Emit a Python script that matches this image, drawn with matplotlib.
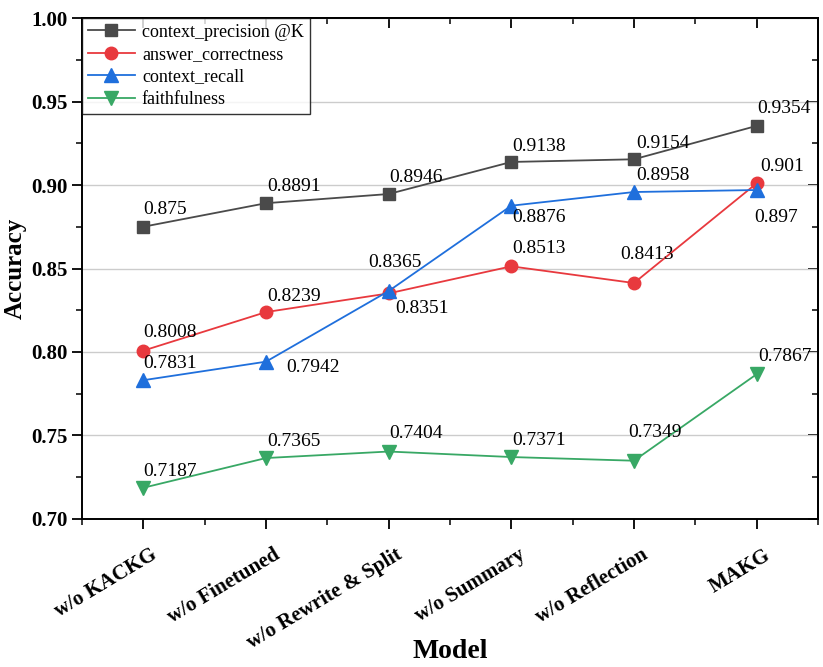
import matplotlib
matplotlib.use("Agg")
import matplotlib.pyplot as plt
from matplotlib.ticker import MultipleLocator, FormatStrFormatter
from matplotlib.transforms import ScaledTranslation

plt.rcParams['font.family'] = ['Liberation Serif', 'DejaVu Serif']

models = ["w/o KACKG", "w/o Finetuned", "w/o Rewrite & Split", "w/o Summary", "w/o Reflection", "MAKG"]
context_precision = [0.875, 0.8891, 0.8946, 0.9138, 0.9154, 0.9354]
answer_correctness = [0.8008, 0.8239, 0.8351, 0.8513, 0.8413, 0.901]
context_recall = [0.7831, 0.7942, 0.8365, 0.8876, 0.8958, 0.897]
faithfulness = [0.7187, 0.7365, 0.7404, 0.7371, 0.7349, 0.7867]

# label offsets in pixels (dx, dy screen-down)
off_prec = [(0, -17), (1, -17), (1, -17), (1, -15), (2, -16), (1, -17)]
off_corr = [(0, -18), (1, -16), (7, 15), (1, -18), (-14, -29), (4, -17)]
off_rec = [(0, -17), (20, 6), (-20, -29), (1, 12), (2, -17), (-2, 27)]
off_faith = [(0, -16), (1, -17), (1, -18), (1, -17), (-6, -28), (2, -18)]

series = [
    ("context_precision @K", context_precision, "#4a4a4a", "s", 8.5, off_prec),
    ("answer_correctness", answer_correctness, "#e8393e", "o", 9, off_corr),
    ("context_recall", context_recall, "#1f6fdc", "^", 10, off_rec),
    ("faithfulness", faithfulness, "#38a865", "v", 10, off_faith),
]

fig = plt.figure(figsize=(8.23, 6.67), dpi=100)
ax = fig.add_axes([0.0996, 0.2219, 0.8943, 0.7511])

x = list(range(len(models)))
for name, vals, color, mk, ms, offs in series:
    ax.plot(x, vals, color=color, marker=mk, markersize=ms, linewidth=1.3, label=name, zorder=3)
    for xi, v, (dx, dy) in zip(x, vals, offs):
        ax.annotate(f"{v:g}", (xi, v), xytext=(dx, -dy), textcoords="offset pixels",
                    ha="left", va="center", fontsize=14, zorder=4)

ax.set_xlim(-0.5, 5.5)
ax.set_ylim(0.70, 1.00)
ax.yaxis.set_major_locator(MultipleLocator(0.05))
ax.yaxis.set_minor_locator(MultipleLocator(0.025))
ax.yaxis.set_major_formatter(FormatStrFormatter("%.2f"))
ax.xaxis.set_minor_locator(MultipleLocator(0.5))

ax.tick_params(which="major", direction="out", length=7, width=1.3, top=False, right=False)
ax.tick_params(which="minor", direction="out", length=4, width=1.1, top=False, right=False)
ax.tick_params(axis="x", which="major", pad=18)
ax.tick_params(axis="y", labelsize=15)

ax.set_xticks(x)
ax.set_xticklabels(models, rotation=31, ha="right", va="center", rotation_mode="anchor",
                   fontsize=15, fontweight="bold")
# nudge rotated labels to the right
shift = ScaledTranslation(12 / 100, 0, fig.dpi_scale_trans)
for lab in ax.xaxis.get_majorticklabels():
    lab.set_transform(lab.get_transform() + shift)
for lab in ax.get_yticklabels():
    lab.set_fontweight("bold")

# inward mirror ticks on top and right
sec_x = ax.secondary_xaxis("top")
sec_x.set_xticks(x)
sec_x.xaxis.set_minor_locator(MultipleLocator(0.5))
sec_x.tick_params(which="major", direction="in", length=7, width=1.3, labeltop=False)
sec_x.tick_params(which="minor", direction="in", length=4, width=1.1)
sec_y = ax.secondary_yaxis("right")
sec_y.yaxis.set_major_locator(MultipleLocator(0.05))
sec_y.yaxis.set_minor_locator(MultipleLocator(0.025))
sec_y.tick_params(which="major", direction="in", length=7, width=1.3, labelright=False)
sec_y.tick_params(which="minor", direction="in", length=4, width=1.1)
for s in ["top", "right", "left", "bottom"]:
    ax.spines[s].set_linewidth(1.4)
sec_x.spines["top"].set_linewidth(1.4)
sec_y.spines["right"].set_linewidth(1.4)

ax.grid(axis="y", color="#cccccc", linewidth=1.0, zorder=0)
ax.set_axisbelow(True)

ax.set_ylabel("Accuracy", fontsize=18, fontweight="bold", va="center")
ax.yaxis.set_label_coords(-0.09, 0.5)
ax.set_xlabel("Model", fontsize=20, fontweight="bold", va="center")
ax.xaxis.set_label_coords(0.5, -0.2635)

leg = ax.legend(loc="upper left", fontsize=13, frameon=True, fancybox=False,
                edgecolor="black", borderaxespad=0, handlelength=2.6,
                labelspacing=0.3, borderpad=0.32, handletextpad=0.4)
leg.get_frame().set_linewidth(1.0)

plt.savefig("out.png", dpi=100)
